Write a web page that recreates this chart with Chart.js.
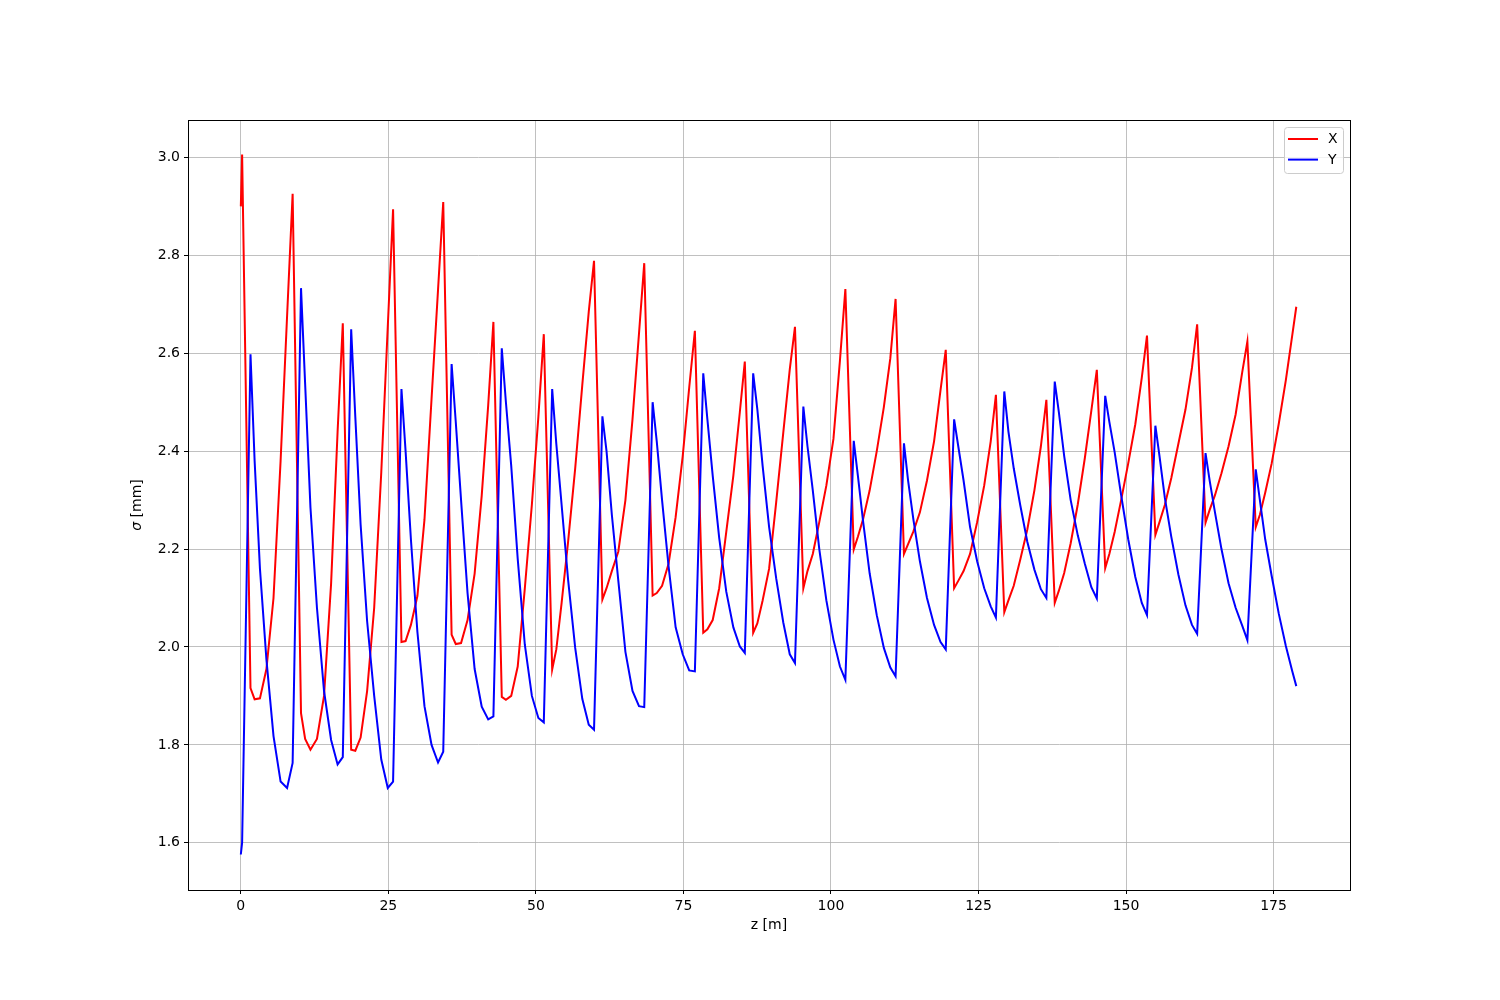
<!DOCTYPE html>
<html>
<head>
<meta charset="utf-8">
<title>Beam size along z</title>
<script src="https://cdn.jsdelivr.net/npm/chart.js@4.4.1/dist/chart.umd.min.js"></script>
<style>
  html, body { margin: 0; padding: 0; background: #fff; }
  canvas { display: block; }
</style>
</head>
<body>
<canvas id="canvas" width="1500" height="1000"></canvas>
<script>
// position along the line [m], one row per lattice period
const zPos = [
  0, 0.22, 1.64, 2.34, 3.24, 4.34, 5.54, 6.74, 7.84,
  8.78, 10.20, 10.90, 11.80, 12.90, 14.10, 15.30, 16.40,
  17.28, 18.70, 19.40, 20.30, 21.40, 22.60, 23.80, 24.90,
  25.80, 27.22, 27.92, 28.82, 29.92, 31.12, 32.32, 33.42,
  34.30, 35.72, 36.42, 37.32, 38.42, 39.62, 40.82, 41.92,
  42.80, 44.22, 44.92, 45.82, 46.92, 48.12, 49.32, 50.42,
  51.34, 52.76, 53.46, 54.36, 55.46, 56.66, 57.86, 58.96,
  59.85, 61.27, 61.97, 62.87, 63.97, 65.17, 66.37, 67.47,
  68.36, 69.78, 70.48, 71.38, 72.48, 73.68, 74.88, 75.98,
  76.94, 78.36, 79.06, 79.96, 81.06, 82.26, 83.46, 84.56,
  85.40, 86.82, 87.52, 88.42, 89.52, 90.72, 91.92, 93.02,
  93.90, 95.32, 96.02, 96.92, 98.02, 99.22, 100.42, 101.52,
  102.44, 103.86, 104.56, 105.46, 106.56, 107.76, 108.96, 110.06,
  110.95, 112.37, 113.07, 113.97, 115.07, 116.27, 117.47, 118.57,
  119.45, 120.87, 121.57, 122.47, 123.57, 124.77, 125.97, 127.07,
  127.95, 129.37, 130.07, 130.97, 132.07, 133.27, 134.47, 135.57,
  136.50, 137.92, 138.62, 139.52, 140.62, 141.82, 143.02, 144.12,
  145.05, 146.47, 147.17, 148.07, 149.17, 150.37, 151.57, 152.67,
  153.55, 154.97, 155.67, 156.57, 157.67, 158.87, 160.07, 161.17,
  162.05, 163.47, 164.17, 165.07, 166.17, 167.37, 168.57, 169.67,
  170.56, 171.98, 172.68, 173.58, 174.68, 175.88, 177.08, 178.18, 178.85
];

// horizontal beam size [mm]
const sigmaX = [
  2.900, 3.006, 1.916, 1.893, 1.895, 1.955, 2.100, 2.380, 2.676,
  2.926, 1.865, 1.812, 1.790, 1.812, 1.900, 2.130, 2.440,
  2.661, 1.790, 1.788, 1.815, 1.910, 2.080, 2.357, 2.654,
  2.894, 2.010, 2.012, 2.045, 2.104, 2.260, 2.507, 2.730,
  2.909, 2.025, 2.006, 2.008, 2.055, 2.150, 2.309, 2.494,
  2.664, 1.898, 1.892, 1.900, 1.960, 2.119, 2.291, 2.470,
  2.639, 1.954, 1.995, 2.090, 2.215, 2.365, 2.535, 2.685,
  2.789, 2.097, 2.120, 2.155, 2.195, 2.300, 2.465, 2.640,
  2.784, 2.105, 2.110, 2.125, 2.170, 2.265, 2.390, 2.530,
  2.646, 2.029, 2.036, 2.055, 2.120, 2.235, 2.350, 2.480,
  2.583, 2.029, 2.048, 2.095, 2.160, 2.296, 2.438, 2.567,
  2.654, 2.120, 2.155, 2.190, 2.255, 2.330, 2.425, 2.585,
  2.731, 2.199, 2.225, 2.262, 2.320, 2.400, 2.490, 2.590,
  2.711, 2.190, 2.210, 2.236, 2.275, 2.340, 2.420, 2.525,
  2.607, 2.120, 2.135, 2.155, 2.190, 2.255, 2.330, 2.420,
  2.515, 2.071, 2.095, 2.125, 2.178, 2.240, 2.320, 2.410,
  2.505, 2.090, 2.115, 2.151, 2.212, 2.291, 2.386, 2.483,
  2.566, 2.161, 2.190, 2.235, 2.300, 2.375, 2.455, 2.550,
  2.636, 2.229, 2.255, 2.290, 2.345, 2.415, 2.485, 2.570,
  2.659, 2.254, 2.280, 2.310, 2.355, 2.410, 2.475, 2.560,
  2.624, 2.245, 2.270, 2.315, 2.375, 2.456, 2.545, 2.638, 2.695
];

// vertical beam size [mm]
const sigmaY = [
  1.576, 1.600, 2.598, 2.380, 2.160, 1.974, 1.818, 1.725, 1.712,
  1.763, 2.733, 2.537, 2.285, 2.080, 1.910, 1.810, 1.760,
  1.775, 2.649, 2.470, 2.250, 2.053, 1.900, 1.770, 1.712,
  1.725, 2.527, 2.400, 2.220, 2.031, 1.879, 1.800, 1.764,
  1.786, 2.578, 2.460, 2.300, 2.110, 1.955, 1.878, 1.852,
  1.858, 2.610, 2.500, 2.370, 2.180, 2.005, 1.900, 1.855,
  1.846, 2.527, 2.415, 2.290, 2.137, 1.998, 1.894, 1.841,
  1.831, 2.471, 2.400, 2.270, 2.135, 1.990, 1.910, 1.879,
  1.877, 2.500, 2.420, 2.300, 2.165, 2.040, 1.985, 1.952,
  1.950, 2.559, 2.465, 2.350, 2.223, 2.113, 2.040, 2.001,
  1.988, 2.559, 2.486, 2.370, 2.245, 2.140, 2.050, 1.985,
  1.967, 2.491, 2.410, 2.320, 2.200, 2.095, 2.015, 1.960,
  1.933, 2.421, 2.350, 2.255, 2.150, 2.065, 1.998, 1.958,
  1.940, 2.416, 2.340, 2.260, 2.175, 2.100, 2.045, 2.010,
  1.995, 2.465, 2.410, 2.340, 2.245, 2.175, 2.120, 2.083,
  2.060, 2.522, 2.440, 2.365, 2.290, 2.215, 2.158, 2.118,
  2.100, 2.542, 2.479, 2.390, 2.300, 2.228, 2.170, 2.122,
  2.099, 2.513, 2.460, 2.398, 2.310, 2.220, 2.143, 2.090,
  2.065, 2.452, 2.390, 2.305, 2.225, 2.148, 2.085, 2.045,
  2.027, 2.396, 2.340, 2.275, 2.200, 2.130, 2.080, 2.044,
  2.014, 2.363, 2.300, 2.220, 2.145, 2.068, 2.002, 1.950, 1.920
];

const seriesNames = ['X', 'Y'];
const seriesColors = ['#ff0000', '#0000ff'];
const xTicks = [0, 25, 50, 75, 100, 125, 150, 175];
const yTicks = [1.6, 1.8, 2.0, 2.2, 2.4, 2.6, 2.8, 3.0];
const xLabel = 'z [m]';
const yLabelSymbol = 'σ';
const yLabelUnit = ' [mm]';

const FONT = '"DejaVu Sans", "Liberation Sans", sans-serif';
Chart.defaults.font.family = FONT;
Chart.defaults.font.size = 14;
Chart.defaults.color = '#000';

const toPoints = ys => zPos.map((z, i) => ({ x: z, y: ys[i] }));

// frame, rotated y label (italic sigma) and the boxed legend, drawn like matplotlib
const decorations = {
  id: 'decorations',
  afterDraw(chart) {
    const { ctx, chartArea: a } = chart;
    ctx.save();
    ctx.strokeStyle = '#000';
    ctx.lineWidth = 1;
    ctx.strokeRect(Math.round(a.left) + 0.5, Math.round(a.top) + 0.5,
      Math.round(a.right - a.left), Math.round(a.bottom - a.top));

    // y axis label
    ctx.translate(137, (a.top + a.bottom) / 2);
    ctx.rotate(-Math.PI / 2);
    ctx.textBaseline = 'middle';
    ctx.textAlign = 'left';
    ctx.fillStyle = '#000';
    ctx.font = 'italic 14px ' + FONT;
    const w1 = ctx.measureText(yLabelSymbol).width;
    ctx.font = '14px ' + FONT;
    const w2 = ctx.measureText(yLabelUnit).width;
    const x0 = -(w1 + w2) / 2;
    ctx.font = 'italic 14px ' + FONT;
    ctx.fillText(yLabelSymbol, x0, 0);
    ctx.font = '14px ' + FONT;
    ctx.fillText(yLabelUnit, x0 + w1, 0);
    ctx.restore();

    // legend box, upper right
    ctx.save();
    const lx = 1284.5, ly = 127.5, lw = 59, lh = 46;
    ctx.beginPath();
    ctx.roundRect(lx, ly, lw, lh, 3);
    ctx.fillStyle = 'rgba(255,255,255,0.8)';
    ctx.fill();
    ctx.strokeStyle = '#cccccc';
    ctx.lineWidth = 1;
    ctx.stroke();
    ctx.font = '14px ' + FONT;
    ctx.textBaseline = 'middle';
    ctx.textAlign = 'left';
    seriesNames.forEach((name, i) => {
      const y = 139 + i * 20.6;
      ctx.beginPath();
      ctx.moveTo(1288, y);
      ctx.lineTo(1318, y);
      ctx.strokeStyle = seriesColors[i];
      ctx.lineWidth = 2;
      ctx.stroke();
      ctx.fillStyle = '#000';
      ctx.fillText(name, 1328, y + 0.5);
    });
    ctx.restore();
  }
};

new Chart(document.getElementById('canvas'), {
  type: 'line',
  data: {
    datasets: [
      {
        label: seriesNames[0],
        data: toPoints(sigmaX),
        borderColor: seriesColors[0],
        borderWidth: 2,
        pointRadius: 0,
        tension: 0,
        fill: false,
        order: 1
      },
      {
        label: seriesNames[1],
        data: toPoints(sigmaY),
        borderColor: seriesColors[1],
        borderWidth: 2,
        pointRadius: 0,
        tension: 0,
        fill: false,
        order: 0
      }
    ]
  },
  options: {
    responsive: false,
    animation: false,
    devicePixelRatio: 1,
    layout: { padding: { top: 120, right: 150, bottom: 0, left: 0 } },
    plugins: {
      legend: { display: false },
      tooltip: { enabled: false }
    },
    scales: {
      x: {
        type: 'linear',
        min: -8.95,
        max: 187.95,
        afterBuildTicks: s => { s.ticks = xTicks.map(v => ({ value: v })); },
        afterFit: s => { s.height = 110; },
        ticks: {
          autoSkip: false,
          maxRotation: 0,
          padding: 4,
          callback: v => String(v)
        },
        grid: {
          color: '#b0b0b0',
          lineWidth: 0.8,
          drawTicks: true,
          tickLength: 4,
          tickColor: '#000',
          tickWidth: 1
        },
        border: { display: false },
        title: {
          display: true,
          text: xLabel,
          padding: { top: 0, bottom: 66 }
        }
      },
      y: {
        type: 'linear',
        min: 1.5035,
        max: 3.0765,
        afterBuildTicks: s => { s.ticks = yTicks.map(v => ({ value: v })); },
        afterFit: s => { s.width = 188; },
        ticks: {
          autoSkip: false,
          padding: 4,
          callback: v => v.toFixed(1)
        },
        grid: {
          color: '#b0b0b0',
          lineWidth: 0.8,
          drawTicks: true,
          tickLength: 4,
          tickColor: '#000',
          tickWidth: 1
        },
        border: { display: false }
      }
    }
  },
  plugins: [decorations]
});
</script>
</body>
</html>
